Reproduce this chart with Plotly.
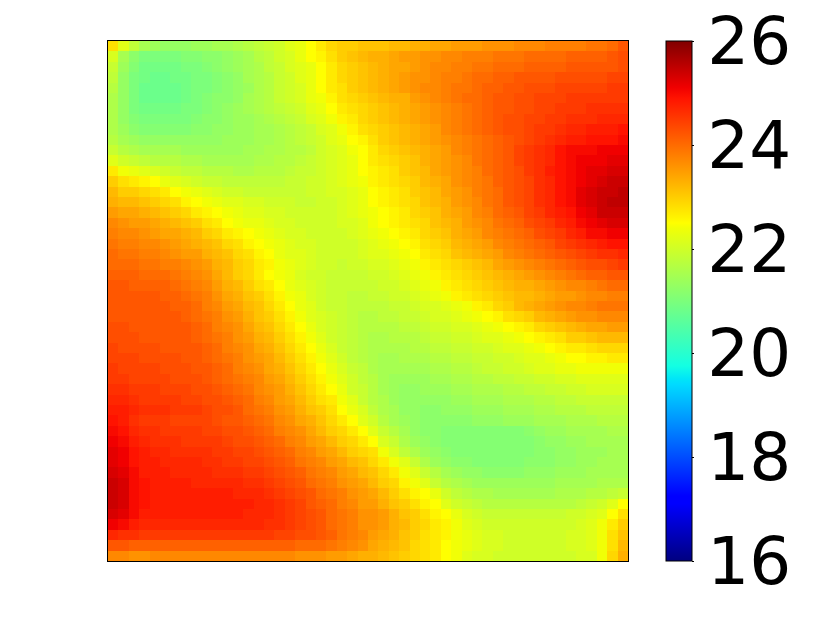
import plotly.graph_objects as go

z_rows = [
[22.8,22.2,21.8,21.5,21.4,21.3,21.3,21.3,21.4,21.4,21.5,21.5,21.6,21.7,21.8,21.9,22.0,22.2,22.3,22.5,22.7,22.9,23.0,23.0,23.1,23.1,23.1,23.2,23.2,23.3,23.3,23.4,23.4,23.5,23.5,23.5,23.6,23.6,23.6,23.7,23.7,23.7,23.8,23.8,23.8,23.8,23.9,23.9,24.0,24.2],
[22.1,21.5,21.2,21.0,21.0,21.0,21.0,21.1,21.1,21.2,21.2,21.3,21.4,21.5,21.7,21.8,22.0,22.1,22.3,22.5,22.6,22.8,23.0,23.1,23.2,23.3,23.3,23.4,23.5,23.5,23.6,23.6,23.7,23.7,23.8,23.8,23.8,23.9,23.9,23.9,24.0,24.0,24.0,24.0,24.1,24.1,24.1,24.1,24.2,24.3],
[21.9,21.4,21.1,20.9,20.9,20.9,20.9,21.0,21.0,21.1,21.2,21.3,21.4,21.5,21.6,21.8,21.9,22.1,22.2,22.3,22.5,22.7,22.9,23.0,23.1,23.2,23.3,23.4,23.4,23.5,23.6,23.7,23.7,23.8,23.8,23.9,23.9,24.0,24.0,24.0,24.1,24.1,24.1,24.1,24.2,24.2,24.2,24.2,24.2,24.3],
[21.8,21.3,21.0,20.9,20.8,20.8,20.9,20.9,21.0,21.0,21.1,21.2,21.3,21.5,21.6,21.7,21.9,22.0,22.2,22.3,22.5,22.7,22.9,23.0,23.1,23.2,23.3,23.4,23.5,23.6,23.6,23.7,23.8,23.8,23.9,24.0,24.0,24.1,24.1,24.2,24.2,24.2,24.2,24.3,24.3,24.3,24.3,24.3,24.4,24.4],
[21.7,21.3,21.0,20.8,20.8,20.8,20.8,20.9,21.0,21.0,21.1,21.2,21.3,21.4,21.6,21.7,21.9,22.0,22.1,22.3,22.5,22.7,22.8,23.0,23.1,23.2,23.3,23.4,23.5,23.6,23.7,23.7,23.8,23.9,23.9,24.0,24.1,24.1,24.2,24.2,24.3,24.3,24.3,24.4,24.4,24.4,24.4,24.4,24.5,24.5],
[21.6,21.3,21.0,20.8,20.8,20.8,20.8,20.9,21.0,21.1,21.2,21.2,21.3,21.5,21.6,21.7,21.9,22.0,22.1,22.3,22.4,22.6,22.8,22.9,23.0,23.1,23.2,23.3,23.3,23.5,23.6,23.7,23.8,23.9,24.0,24.0,24.1,24.2,24.2,24.3,24.3,24.4,24.4,24.4,24.5,24.5,24.5,24.5,24.5,24.5],
[21.6,21.3,21.0,20.9,20.9,20.9,20.9,21.0,21.0,21.1,21.2,21.3,21.4,21.5,21.6,21.7,21.8,21.9,22.0,22.2,22.3,22.5,22.7,22.8,22.9,23.0,23.1,23.2,23.3,23.4,23.5,23.6,23.7,23.8,23.9,24.0,24.1,24.2,24.2,24.3,24.3,24.4,24.4,24.5,24.5,24.5,24.6,24.6,24.6,24.6],
[21.6,21.3,21.1,21.0,21.0,21.0,21.0,21.0,21.1,21.2,21.2,21.3,21.4,21.4,21.5,21.6,21.7,21.8,21.9,22.1,22.2,22.4,22.6,22.7,22.9,23.0,23.1,23.2,23.3,23.4,23.5,23.6,23.7,23.8,23.9,24.0,24.1,24.2,24.3,24.3,24.4,24.4,24.5,24.5,24.6,24.6,24.6,24.7,24.7,24.7],
[21.6,21.4,21.2,21.1,21.1,21.1,21.1,21.1,21.2,21.2,21.3,21.3,21.4,21.4,21.5,21.5,21.6,21.7,21.8,21.9,22.1,22.2,22.4,22.6,22.8,22.9,23.0,23.1,23.2,23.3,23.4,23.5,23.7,23.8,23.9,24.0,24.1,24.2,24.3,24.3,24.4,24.5,24.5,24.6,24.7,24.7,24.8,24.8,24.8,24.9],
[21.7,21.5,21.4,21.3,21.3,21.3,21.3,21.3,21.3,21.3,21.3,21.4,21.4,21.4,21.5,21.5,21.6,21.7,21.8,21.9,22.0,22.2,22.3,22.5,22.6,22.8,23.0,23.1,23.2,23.3,23.4,23.5,23.6,23.7,23.8,23.9,24.0,24.1,24.2,24.3,24.4,24.5,24.6,24.7,24.8,24.8,24.9,24.9,24.9,25.0],
[21.9,21.7,21.6,21.5,21.5,21.5,21.5,21.4,21.4,21.4,21.4,21.4,21.4,21.5,21.5,21.6,21.6,21.7,21.7,21.8,22.0,22.1,22.2,22.4,22.5,22.7,22.9,23.0,23.1,23.2,23.3,23.4,23.5,23.7,23.8,23.9,24.0,24.1,24.2,24.4,24.5,24.6,24.7,24.9,25.0,25.0,25.0,25.1,25.1,25.1],
[22.2,22.0,21.9,21.8,21.7,21.7,21.7,21.6,21.6,21.5,21.5,21.5,21.5,21.5,21.6,21.6,21.7,21.7,21.8,21.9,22.0,22.1,22.2,22.3,22.5,22.7,22.8,22.9,23.0,23.1,23.3,23.4,23.5,23.6,23.7,23.9,24.0,24.1,24.2,24.4,24.5,24.6,24.7,24.9,25.0,25.1,25.1,25.1,25.2,25.2],
[22.7,22.4,22.3,22.2,22.1,22.0,21.9,21.8,21.8,21.7,21.7,21.7,21.6,21.6,21.7,21.7,21.7,21.8,21.9,21.9,22.0,22.1,22.2,22.3,22.5,22.6,22.7,22.8,23.0,23.1,23.2,23.4,23.5,23.6,23.7,23.8,24.0,24.1,24.2,24.3,24.5,24.6,24.8,24.9,25.0,25.1,25.2,25.2,25.3,25.3],
[23.0,22.8,22.7,22.6,22.5,22.3,22.2,22.1,22.0,21.9,21.9,21.8,21.8,21.8,21.8,21.8,21.8,21.9,21.9,22.0,22.0,22.1,22.2,22.3,22.4,22.6,22.7,22.8,22.9,23.0,23.2,23.3,23.4,23.6,23.7,23.8,23.9,24.1,24.2,24.3,24.4,24.6,24.7,24.9,25.0,25.1,25.2,25.3,25.4,25.4],
[23.2,23.0,23.0,22.9,22.8,22.7,22.5,22.4,22.3,22.2,22.1,22.0,22.0,21.9,21.9,21.9,21.9,21.9,21.9,22.0,22.0,22.1,22.1,22.2,22.3,22.5,22.6,22.7,22.8,23.0,23.1,23.2,23.4,23.5,23.6,23.8,23.9,24.0,24.2,24.3,24.4,24.6,24.7,24.9,25.0,25.2,25.3,25.4,25.4,25.5],
[23.3,23.2,23.2,23.1,23.0,22.9,22.8,22.6,22.5,22.4,22.3,22.2,22.2,22.1,22.1,22.0,22.0,22.0,21.9,21.9,22.0,22.0,22.1,22.2,22.3,22.5,22.6,22.7,22.8,22.9,23.1,23.2,23.3,23.5,23.6,23.7,23.9,24.0,24.2,24.3,24.4,24.6,24.7,24.9,25.0,25.2,25.3,25.4,25.5,25.5],
[23.5,23.4,23.4,23.3,23.2,23.1,23.0,22.9,22.7,22.6,22.5,22.4,22.3,22.2,22.2,22.1,22.1,22.0,22.0,22.0,22.0,22.0,22.1,22.2,22.3,22.4,22.5,22.6,22.7,22.9,23.0,23.1,23.3,23.4,23.5,23.7,23.8,24.0,24.1,24.2,24.4,24.5,24.7,24.8,24.9,25.1,25.2,25.4,25.4,25.4],
[23.7,23.6,23.5,23.5,23.4,23.3,23.2,23.1,23.0,22.8,22.7,22.5,22.4,22.3,22.3,22.2,22.1,22.1,22.0,22.0,22.0,22.0,22.1,22.1,22.2,22.4,22.5,22.6,22.7,22.8,22.9,23.1,23.2,23.3,23.5,23.6,23.7,23.9,24.0,24.1,24.3,24.4,24.5,24.7,24.8,25.0,25.1,25.2,25.3,25.3],
[23.8,23.7,23.7,23.6,23.5,23.4,23.4,23.3,23.2,23.0,22.9,22.7,22.6,22.5,22.4,22.3,22.2,22.1,22.1,22.0,22.0,22.0,22.0,22.1,22.2,22.3,22.4,22.5,22.6,22.7,22.9,23.0,23.1,23.3,23.4,23.5,23.7,23.8,23.9,24.0,24.1,24.3,24.4,24.5,24.7,24.8,25.0,25.0,25.1,25.1],
[23.9,23.8,23.8,23.7,23.7,23.6,23.5,23.4,23.3,23.2,23.1,22.9,22.8,22.6,22.5,22.4,22.3,22.2,22.1,22.1,22.0,22.0,22.0,22.0,22.1,22.2,22.3,22.4,22.5,22.6,22.8,22.9,23.0,23.2,23.3,23.4,23.5,23.7,23.8,23.9,24.0,24.1,24.2,24.4,24.5,24.6,24.7,24.8,24.9,24.9],
[24.0,23.9,23.9,23.8,23.8,23.7,23.6,23.5,23.5,23.3,23.2,23.1,22.9,22.8,22.6,22.5,22.3,22.2,22.2,22.1,22.0,22.0,22.0,22.0,22.1,22.2,22.2,22.3,22.4,22.5,22.7,22.8,22.9,23.1,23.2,23.3,23.4,23.5,23.7,23.8,23.9,24.0,24.1,24.2,24.3,24.4,24.5,24.6,24.6,24.7],
[24.0,24.0,24.0,23.9,23.9,23.8,23.8,23.7,23.6,23.5,23.3,23.2,23.0,22.9,22.7,22.6,22.4,22.3,22.2,22.1,22.0,22.0,21.9,22.0,22.0,22.1,22.1,22.2,22.3,22.4,22.6,22.7,22.8,22.9,23.0,23.1,23.2,23.4,23.5,23.6,23.7,23.8,23.9,24.0,24.1,24.2,24.3,24.3,24.4,24.5],
[24.1,24.1,24.1,24.0,24.0,24.0,23.9,23.8,23.7,23.6,23.4,23.2,23.0,22.9,22.7,22.5,22.4,22.3,22.1,22.0,22.0,21.9,21.9,21.9,21.9,22.0,22.0,22.1,22.2,22.3,22.4,22.6,22.7,22.8,22.9,23.0,23.1,23.2,23.3,23.4,23.5,23.6,23.7,23.8,23.9,24.0,24.1,24.1,24.2,24.2],
[24.2,24.2,24.1,24.1,24.1,24.1,24.0,23.9,23.8,23.7,23.5,23.3,23.2,23.0,22.8,22.7,22.5,22.3,22.2,22.1,22.0,21.9,21.9,21.9,21.9,21.9,22.0,22.0,22.1,22.2,22.3,22.4,22.6,22.7,22.8,22.9,23.0,23.1,23.2,23.3,23.3,23.4,23.5,23.6,23.7,23.7,23.8,23.9,24.0,24.0],
[24.2,24.2,24.2,24.2,24.2,24.1,24.1,24.0,23.9,23.8,23.6,23.4,23.3,23.1,23.0,22.8,22.6,22.4,22.3,22.1,22.0,21.9,21.9,21.8,21.8,21.9,21.9,22.0,22.0,22.1,22.2,22.3,22.4,22.6,22.7,22.8,22.9,23.0,23.1,23.2,23.2,23.3,23.4,23.5,23.5,23.6,23.7,23.7,23.8,23.8],
[24.2,24.2,24.2,24.2,24.2,24.2,24.1,24.1,24.0,23.8,23.7,23.5,23.4,23.2,23.1,22.9,22.7,22.5,22.3,22.2,22.0,21.9,21.9,21.8,21.8,21.8,21.8,21.9,21.9,22.0,22.1,22.1,22.2,22.3,22.4,22.6,22.7,22.9,23.0,23.2,23.3,23.4,23.5,23.6,23.7,23.7,23.8,23.9,23.9,23.9],
[24.2,24.2,24.2,24.2,24.2,24.2,24.2,24.1,24.0,23.9,23.8,23.6,23.5,23.3,23.1,23.0,22.8,22.6,22.4,22.2,22.1,22.0,21.9,21.8,21.7,21.7,21.8,21.8,21.9,21.9,22.0,22.1,22.1,22.2,22.3,22.4,22.5,22.6,22.8,22.9,23.0,23.2,23.3,23.4,23.5,23.6,23.6,23.7,23.7,23.7],
[24.3,24.3,24.2,24.2,24.2,24.2,24.2,24.2,24.1,24.0,23.8,23.7,23.6,23.4,23.2,23.1,22.9,22.7,22.5,22.3,22.1,22.0,21.9,21.8,21.7,21.7,21.7,21.7,21.8,21.8,21.9,22.0,22.0,22.1,22.1,22.2,22.3,22.4,22.5,22.6,22.7,22.9,23.0,23.1,23.2,23.3,23.4,23.4,23.5,23.5],
[24.3,24.3,24.3,24.2,24.2,24.2,24.2,24.2,24.1,24.0,23.9,23.8,23.6,23.5,23.3,23.2,23.0,22.8,22.6,22.4,22.2,22.0,21.9,21.8,21.7,21.6,21.6,21.7,21.7,21.7,21.8,21.9,21.9,22.0,22.0,22.1,22.2,22.2,22.3,22.4,22.5,22.6,22.7,22.8,23.0,23.0,23.1,23.2,23.2,23.2],
[24.4,24.3,24.3,24.3,24.3,24.2,24.2,24.2,24.2,24.1,24.0,23.8,23.7,23.6,23.4,23.3,23.1,22.9,22.7,22.5,22.3,22.1,21.9,21.8,21.7,21.6,21.6,21.6,21.6,21.7,21.7,21.8,21.8,21.9,21.9,22.0,22.0,22.1,22.2,22.2,22.3,22.4,22.5,22.6,22.7,22.7,22.8,22.9,22.9,22.9],
[24.4,24.4,24.4,24.3,24.3,24.3,24.3,24.2,24.2,24.1,24.0,23.9,23.8,23.6,23.5,23.4,23.2,23.0,22.8,22.6,22.4,22.2,22.0,21.8,21.7,21.6,21.5,21.5,21.6,21.6,21.6,21.7,21.7,21.8,21.8,21.9,21.9,22.0,22.0,22.1,22.2,22.2,22.3,22.4,22.5,22.5,22.6,22.6,22.7,22.7],
[24.5,24.4,24.4,24.4,24.4,24.3,24.3,24.3,24.2,24.2,24.1,24.0,23.8,23.7,23.6,23.4,23.3,23.1,22.9,22.7,22.5,22.3,22.1,21.9,21.8,21.6,21.5,21.5,21.5,21.5,21.5,21.6,21.6,21.7,21.7,21.8,21.9,21.9,22.0,22.0,22.1,22.2,22.2,22.3,22.3,22.4,22.4,22.4,22.4,22.4],
[24.5,24.5,24.4,24.4,24.4,24.4,24.3,24.3,24.3,24.2,24.1,24.0,23.9,23.8,23.7,23.5,23.4,23.2,23.0,22.8,22.6,22.4,22.2,22.0,21.8,21.7,21.5,21.4,21.4,21.4,21.4,21.5,21.5,21.6,21.6,21.7,21.7,21.8,21.8,21.9,21.9,22.0,22.0,22.1,22.1,22.2,22.2,22.2,22.2,22.2],
[24.6,24.6,24.5,24.5,24.5,24.4,24.4,24.4,24.3,24.3,24.2,24.1,24.0,23.9,23.7,23.6,23.5,23.3,23.1,22.9,22.7,22.5,22.3,22.0,21.9,21.7,21.5,21.4,21.3,21.3,21.4,21.4,21.4,21.5,21.5,21.6,21.6,21.6,21.7,21.7,21.8,21.8,21.9,21.9,22.0,22.0,22.1,22.1,22.1,22.1],
[24.7,24.7,24.6,24.5,24.5,24.5,24.5,24.4,24.4,24.3,24.3,24.2,24.1,24.0,23.8,23.7,23.5,23.4,23.2,23.0,22.8,22.7,22.4,22.2,21.9,21.7,21.6,21.4,21.3,21.3,21.3,21.3,21.3,21.4,21.4,21.5,21.5,21.5,21.6,21.6,21.6,21.7,21.7,21.8,21.8,21.9,21.9,21.9,21.9,21.9],
[24.8,24.8,24.7,24.6,24.6,24.6,24.5,24.5,24.5,24.4,24.3,24.3,24.2,24.0,23.9,23.8,23.6,23.5,23.3,23.1,23.0,22.8,22.5,22.3,22.1,21.8,21.6,21.5,21.3,21.3,21.2,21.2,21.3,21.3,21.3,21.4,21.4,21.4,21.5,21.5,21.5,21.6,21.6,21.7,21.7,21.7,21.8,21.8,21.8,21.8],
[24.9,24.8,24.6,24.5,24.5,24.5,24.4,24.4,24.4,24.4,24.3,24.2,24.2,24.1,24.0,23.9,23.7,23.6,23.4,23.3,23.1,22.9,22.7,22.5,22.2,22.0,21.7,21.5,21.4,21.3,21.2,21.2,21.2,21.2,21.2,21.3,21.3,21.3,21.4,21.4,21.4,21.5,21.5,21.5,21.6,21.6,21.6,21.7,21.7,21.7],
[25.0,24.9,24.7,24.6,24.6,24.5,24.5,24.5,24.5,24.4,24.4,24.3,24.3,24.2,24.1,24.0,23.8,23.7,23.6,23.4,23.2,23.0,22.9,22.7,22.5,22.2,21.9,21.7,21.5,21.3,21.2,21.2,21.1,21.1,21.1,21.1,21.1,21.1,21.1,21.1,21.2,21.3,21.4,21.4,21.5,21.5,21.5,21.5,21.6,21.6],
[25.1,25.0,24.8,24.7,24.6,24.6,24.6,24.5,24.5,24.5,24.5,24.4,24.3,24.3,24.2,24.1,24.0,23.8,23.7,23.5,23.4,23.2,23.0,22.9,22.7,22.5,22.1,21.9,21.6,21.4,21.3,21.2,21.1,21.1,21.1,21.1,21.1,21.1,21.1,21.1,21.1,21.2,21.3,21.3,21.4,21.4,21.5,21.5,21.5,21.5],
[25.2,25.1,24.9,24.8,24.7,24.7,24.6,24.6,24.6,24.6,24.5,24.5,24.4,24.4,24.3,24.2,24.1,24.0,23.8,23.7,23.5,23.4,23.2,23.0,22.9,22.8,22.4,22.1,21.8,21.6,21.4,21.3,21.2,21.1,21.1,21.1,21.1,21.1,21.1,21.1,21.1,21.2,21.2,21.3,21.3,21.4,21.4,21.4,21.5,21.5],
[25.2,25.1,24.9,24.8,24.8,24.7,24.7,24.7,24.7,24.6,24.6,24.5,24.5,24.4,24.4,24.3,24.2,24.1,23.9,23.8,23.7,23.5,23.4,23.2,23.1,22.9,22.7,22.4,22.2,21.9,21.6,21.4,21.3,21.2,21.2,21.1,21.1,21.1,21.1,21.1,21.2,21.2,21.2,21.3,21.3,21.4,21.4,21.5,21.5,21.5],
[25.3,25.2,25.0,24.8,24.8,24.8,24.7,24.7,24.7,24.7,24.6,24.6,24.6,24.5,24.5,24.4,24.3,24.2,24.1,23.9,23.8,23.7,23.5,23.4,23.2,23.1,22.9,22.7,22.4,22.2,21.9,21.7,21.5,21.4,21.3,21.3,21.2,21.2,21.2,21.2,21.3,21.3,21.3,21.4,21.4,21.4,21.5,21.5,21.5,21.5],
[25.4,25.3,25.0,24.9,24.8,24.8,24.8,24.8,24.7,24.7,24.7,24.7,24.7,24.6,24.6,24.5,24.4,24.3,24.2,24.0,23.9,23.8,23.6,23.5,23.4,23.2,23.0,22.9,22.6,22.4,22.2,21.9,21.7,21.6,21.5,21.4,21.4,21.4,21.4,21.4,21.4,21.4,21.4,21.5,21.5,21.5,21.5,21.6,21.6,21.6],
[25.4,25.3,25.0,24.9,24.8,24.8,24.8,24.8,24.8,24.8,24.8,24.8,24.7,24.7,24.7,24.6,24.5,24.4,24.3,24.2,24.0,23.9,23.8,23.6,23.5,23.4,23.2,23.0,22.8,22.6,22.5,22.3,22.0,21.8,21.7,21.6,21.6,21.5,21.5,21.5,21.5,21.5,21.5,21.6,21.6,21.6,21.7,21.7,21.8,21.9],
[25.4,25.3,25.0,24.9,24.8,24.8,24.8,24.8,24.8,24.8,24.8,24.8,24.8,24.8,24.7,24.7,24.6,24.5,24.4,24.2,24.1,24.0,23.8,23.7,23.5,23.5,23.3,23.1,23.0,22.8,22.6,22.5,22.2,22.0,21.9,21.8,21.7,21.7,21.7,21.7,21.7,21.7,21.7,21.7,21.7,21.8,21.9,22.0,22.2,22.5],
[25.3,25.2,25.0,24.8,24.8,24.8,24.8,24.8,24.8,24.8,24.8,24.8,24.8,24.7,24.7,24.7,24.6,24.5,24.4,24.3,24.2,24.0,23.9,23.8,23.6,23.6,23.5,23.3,23.1,23.0,22.8,22.6,22.5,22.3,22.1,22.0,21.9,21.9,21.9,21.9,21.9,21.9,21.9,21.9,22.0,22.0,22.1,22.2,22.5,22.8],
[25.1,25.0,24.8,24.7,24.7,24.7,24.7,24.7,24.7,24.7,24.7,24.7,24.7,24.7,24.7,24.6,24.6,24.5,24.4,24.3,24.2,24.0,23.9,23.8,23.6,23.6,23.5,23.3,23.2,23.0,22.9,22.7,22.6,22.4,22.2,22.1,22.0,22.0,22.0,22.0,22.0,22.0,22.0,22.0,22.0,22.1,22.2,22.4,22.7,23.0],
[24.7,24.6,24.6,24.5,24.5,24.5,24.5,24.5,24.5,24.5,24.5,24.5,24.5,24.5,24.5,24.5,24.4,24.4,24.3,24.3,24.2,24.1,23.9,23.8,23.7,23.5,23.4,23.3,23.1,23.0,22.8,22.7,22.6,22.4,22.3,22.2,22.1,22.1,22.0,22.0,22.0,22.0,22.0,22.0,22.1,22.1,22.2,22.4,22.8,23.1],
[24.2,24.2,24.1,24.1,24.1,24.1,24.1,24.1,24.1,24.1,24.1,24.1,24.1,24.1,24.1,24.1,24.1,24.1,24.0,24.0,24.0,23.9,23.8,23.7,23.6,23.4,23.3,23.2,23.1,22.9,22.8,22.7,22.5,22.4,22.3,22.2,22.1,22.1,22.0,22.0,22.0,22.0,22.0,22.0,22.1,22.1,22.2,22.4,22.8,23.2],
[23.7,23.7,23.6,23.6,23.7,23.7,23.7,23.7,23.7,23.7,23.7,23.7,23.7,23.7,23.7,23.7,23.7,23.7,23.6,23.6,23.6,23.5,23.5,23.4,23.3,23.3,23.2,23.1,23.0,22.9,22.8,22.7,22.5,22.4,22.2,22.1,22.1,22.0,22.0,22.0,22.0,22.0,22.0,22.0,22.0,22.1,22.1,22.4,22.9,23.3],
]
tick_values = [16, 18, 20, 22, 24, 26]

jet = [[0,"#000080"],[0.11,"#0000ff"],[0.125,"#0000ff"],[0.34,"#00dbff"],[0.35,"#00e5f8"],[0.375,"#13ffe3"],
       [0.64,"#f1ff06"],[0.65,"#ffff00"],[0.66,"#fff400"],[0.89,"#ff1300"],[0.91,"#f10000"],[1,"#800000"]]

fig = go.Figure(go.Heatmap(
    z=z_rows, zmin=16, zmax=26, colorscale=jet,
    colorbar=dict(
        thickness=26, thicknessmode="pixels", len=520, lenmode="pixels",
        x=558/520, xanchor="left", xpad=0, y=0.5, yanchor="middle", ypad=0,
        outlinecolor="#000000", outlinewidth=1,
        tickmode="array", tickvals=tick_values, ticktext=[str(v) for v in tick_values],
        ticks="outside", ticklen=2, tickwidth=1, tickcolor="#000000", ticklabeloverflow="allow",
        tickfont=dict(family="DejaVu Sans", size=66, color="#000000"),
    ),
))
fig.update_layout(
    width=806, height=601, margin=dict(l=100, r=186, t=33, b=48),
    paper_bgcolor="#ffffff", plot_bgcolor="#ffffff",
)
fig.update_xaxes(visible=True, showticklabels=False, ticks="", showgrid=False, zeroline=False,
                 showline=True, mirror=True, linecolor="#000000", linewidth=1, constrain="domain")
fig.update_yaxes(visible=True, showticklabels=False, ticks="", showgrid=False, zeroline=False,
                 showline=True, mirror=True, linecolor="#000000", linewidth=1, autorange="reversed")
fig.write_html("out.html")
